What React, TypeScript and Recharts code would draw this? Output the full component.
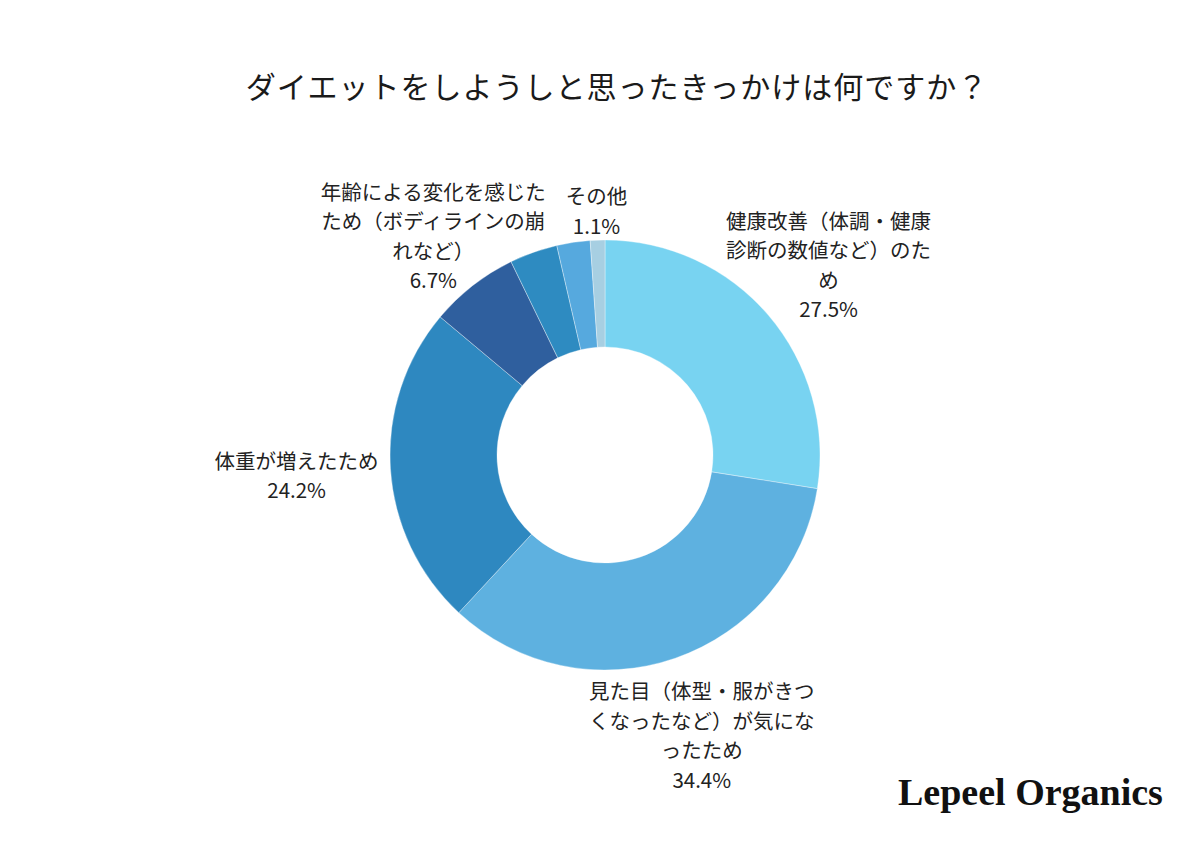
import { PieChart, Pie, Cell } from "recharts";

// 回答項目（時計回り、12時の位置から）
const categories = [
  "健康改善（体調・健康診断の数値など）のため",
  "見た目（体型・服がきつくなったなど）が気になったため",
  "体重が増えたため",
  "年齢による変化を感じたため（ボディラインの崩れなど）",
  "項目5",
  "項目6",
  "その他",
];

const shares = [27.5, 34.4, 24.2, 6.7, 3.6, 2.5, 1.1];

// 表示用に折り返したラベル（空なら非表示）
const labelLines = [
  ["健康改善（体調・健康", "診断の数値など）のた", "め"],
  ["見た目（体型・服がきつ", "くなったなど）が気にな", "ったため"],
  ["体重が増えたため"],
  ["年齢による変化を感じた", "ため（ボディラインの崩", "れなど）"],
  [],
  [],
  ["その他"],
];

const colors = ["#78d3f1", "#5eb1e0", "#2e88c0", "#2f5f9e", "#2e8bc1", "#56a9de", "#a7cfe2"];

const data = categories.map((name, i) => ({ name, value: shares[i] }));

const FONT = "'Noto Sans CJK JP', 'Noto Sans', sans-serif";
const CX = 605;
const CY = 455;
const OUTER = 215;
const INNER = 108;

// ラベル中心までの距離（円の中心から）
const labelDist = [294, 296, 309, 279, 0, 0, 245];
const LINE_H = 29.5;
const RADIAN = Math.PI / 180;

function SliceLabel(props: any) {
  const { cx, cy, midAngle, index } = props;
  const lines = labelLines[index];
  if (!lines || lines.length === 0) return null;
  const d = labelDist[index];
  const x = cx + d * Math.cos(-midAngle * RADIAN);
  const y = cy + d * Math.sin(-midAngle * RADIAN);
  const all = [...lines, `${shares[index].toFixed(1)}%`];
  const n = all.length;
  return (
    <text
      x={x}
      y={y}
      textAnchor="middle"
      fill="#222"
      style={{ fontFamily: FONT, fontSize: 20.5 }}
    >
      {all.map((t, i) => (
        <tspan key={i} x={x} y={y + (i - (n - 1) / 2) * LINE_H} dominantBaseline="central">
          {t}
        </tspan>
      ))}
    </text>
  );
}

export default function App() {
  return (
    <div
      style={{
        position: "fixed",
        left: 0,
        top: 0,
        width: 1200,
        height: 848,
        background: "#ffffff",
        overflow: "hidden",
      }}
    >
      <div
        style={{
          position: "absolute",
          left: 0,
          top: 63,
          width: 1234,
          textAlign: "center",
          fontFamily: FONT,
          fontSize: 30,
          color: "#1a1a1a",
          letterSpacing: 1,
        }}
      >
        ダイエットをしようしと思ったきっかけは何ですか？
      </div>
      <PieChart width={1200} height={848} margin={{ top: 0, right: 0, bottom: 0, left: 0 }}>
        <Pie
          data={data}
          dataKey="value"
          nameKey="name"
          cx={CX}
          cy={CY}
          innerRadius={INNER}
          outerRadius={OUTER}
          startAngle={90}
          endAngle={-270}
          stroke="#ffffff"
          strokeOpacity={0.35}
          strokeWidth={1}
          label={SliceLabel}
          labelLine={false}
          isAnimationActive={false}
        >
          {data.map((_, i) => (
            <Cell key={i} fill={colors[i]} />
          ))}
        </Pie>
      </PieChart>
      <div
        style={{
          position: "absolute",
          left: 898,
          top: 770,
          fontFamily: "'Liberation Serif', serif",
          fontWeight: 600,
          fontSize: 38,
          color: "#111",
          whiteSpace: "nowrap",
        }}
      >
        Lepeel Organics
      </div>
    </div>
  );
}
